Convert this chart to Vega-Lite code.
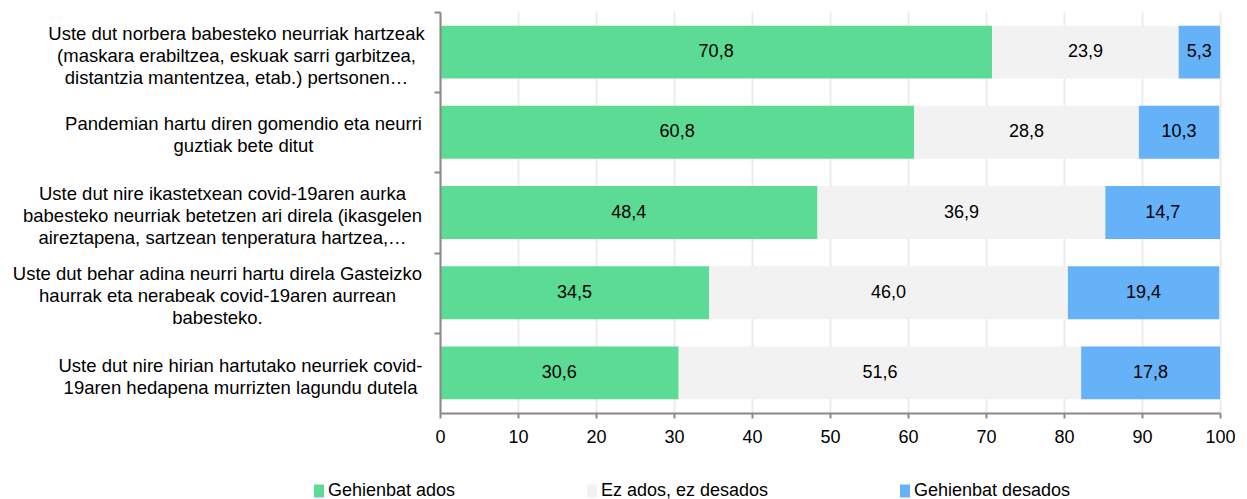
{
  "$schema": "https://vega.github.io/schema/vega-lite/v6.json",
  "width": 780,
  "height": 401,
  "autosize": {"type": "none"},
  "padding": {"left": 440, "top": 12, "right": 27, "bottom": 86},
  "config": {
    "view": {"stroke": null},
    "font": "Liberation Sans",
    "locale": {"number": {"decimal": ",", "thousands": ".", "grouping": [3], "currency": ["", " €"]}}
  },
  "data": {
    "values": [
      {"q": "Uste dut norbera babesteko neurriak hartzeak\n(maskara erabiltzea, eskuak sarri garbitzea,\ndistantzia mantentzea, etab.) pertsonen…", "s": "Gehienbat ados", "v": 70.8},
      {"q": "Uste dut norbera babesteko neurriak hartzeak\n(maskara erabiltzea, eskuak sarri garbitzea,\ndistantzia mantentzea, etab.) pertsonen…", "s": "Ez ados, ez desados", "v": 23.9},
      {"q": "Uste dut norbera babesteko neurriak hartzeak\n(maskara erabiltzea, eskuak sarri garbitzea,\ndistantzia mantentzea, etab.) pertsonen…", "s": "Gehienbat desados", "v": 5.3},
      {"q": "Pandemian hartu diren gomendio eta neurri\nguztiak bete ditut", "s": "Gehienbat ados", "v": 60.8},
      {"q": "Pandemian hartu diren gomendio eta neurri\nguztiak bete ditut", "s": "Ez ados, ez desados", "v": 28.8},
      {"q": "Pandemian hartu diren gomendio eta neurri\nguztiak bete ditut", "s": "Gehienbat desados", "v": 10.3},
      {"q": "Uste dut nire ikastetxean covid-19aren aurka\nbabesteko neurriak betetzen ari direla (ikasgelen\naireztapena, sartzean tenperatura hartzea,…", "s": "Gehienbat ados", "v": 48.4},
      {"q": "Uste dut nire ikastetxean covid-19aren aurka\nbabesteko neurriak betetzen ari direla (ikasgelen\naireztapena, sartzean tenperatura hartzea,…", "s": "Ez ados, ez desados", "v": 36.9},
      {"q": "Uste dut nire ikastetxean covid-19aren aurka\nbabesteko neurriak betetzen ari direla (ikasgelen\naireztapena, sartzean tenperatura hartzea,…", "s": "Gehienbat desados", "v": 14.7},
      {"q": "Uste dut behar adina neurri hartu direla Gasteizko\nhaurrak eta nerabeak covid-19aren aurrean\nbabesteko.", "s": "Gehienbat ados", "v": 34.5},
      {"q": "Uste dut behar adina neurri hartu direla Gasteizko\nhaurrak eta nerabeak covid-19aren aurrean\nbabesteko.", "s": "Ez ados, ez desados", "v": 46.0},
      {"q": "Uste dut behar adina neurri hartu direla Gasteizko\nhaurrak eta nerabeak covid-19aren aurrean\nbabesteko.", "s": "Gehienbat desados", "v": 19.4},
      {"q": "Uste dut nire hirian hartutako neurriek covid-\n19aren hedapena murrizten lagundu dutela", "s": "Gehienbat ados", "v": 30.6},
      {"q": "Uste dut nire hirian hartutako neurriek covid-\n19aren hedapena murrizten lagundu dutela", "s": "Ez ados, ez desados", "v": 51.6},
      {"q": "Uste dut nire hirian hartutako neurriek covid-\n19aren hedapena murrizten lagundu dutela", "s": "Gehienbat desados", "v": 17.8}
    ]
  },
  "transform": [
    {"calculate": "indexof(['Gehienbat ados','Ez ados, ez desados','Gehienbat desados'], datum.s)", "as": "o"},
    {"stack": "v", "groupby": ["q"], "sort": [{"field": "o", "order": "ascending"}], "as": ["v0", "v1"]},
    {"calculate": "(datum.v0 + datum.v1) / 2", "as": "mid"}
  ],
  "encoding": {
    "y": {
      "field": "q",
      "type": "nominal",
      "sort": null,
      "scale": {"paddingInner": 0.34, "paddingOuter": 0.17},
      "axis": {
        "title": null,
        "zindex": 1,
        "tickOffset": -40.1,
        "domainColor": "#888888",
        "domainWidth": 2,
        "tickColor": "#888888",
        "tickWidth": 2,
        "tickSize": 6,
        "labelAlign": "center",
        "labelBaseline": "middle",
        "labelPadding": {
          "condition": [
            {"test": "datum && datum.value && indexof(datum.value, 'norbera') >= 0", "value": 198},
            {"test": "datum && datum.value && indexof(datum.value, 'ikastetxean') >= 0", "value": 212},
            {"test": "datum && datum.value && indexof(datum.value, 'Gasteizko') >= 0", "value": 217},
            {"test": "datum && datum.value && indexof(datum.value, 'hirian') >= 0", "value": 194}
          ],
          "value": 191
        },
        "labelOffset": {
          "condition": [
            {"test": "datum && datum.value && indexof(datum.value, 'Pandemian') >= 0", "value": 31},
            {"test": "datum && datum.value && indexof(datum.value, 'hirian') >= 0", "value": 33},
            {"test": "datum && datum.value && indexof(datum.value, 'Uste') >= 0", "value": 21}
          ],
          "value": 0
        },
        "labelFontSize": 18.5,
        "labelColor": "#000000",
        "labelLineHeight": 22,
        "labelLimit": 0,
        "labelExpr": "split(datum.label, '\\n')",
        "grid": false
      }
    }
  },
  "layer": [
    {
      "mark": {"type": "bar"},
      "encoding": {
        "x": {
          "field": "v0",
          "type": "quantitative",
          "scale": {"domain": [0, 100], "nice": false},
          "axis": {
            "title": null,
            "tickCount": 10,
            "grid": true,
            "gridColor": "#EBEBEB",
            "gridWidth": 2,
            "domainColor": "#888888",
            "domainWidth": 2,
            "tickColor": "#888888",
            "tickWidth": 2,
            "tickSize": 5,
            "labelFontSize": 18,
            "labelColor": "#000000",
            "labelPadding": 10,
            "labelFlush": false,
            "format": "d"
          }
        },
        "x2": {"field": "v1"},
        "color": {
          "field": "s",
          "type": "nominal",
          "scale": {
            "domain": ["Gehienbat ados", "Ez ados, ez desados", "Gehienbat desados"],
            "range": ["#5CDB95", "#F2F2F2", "#66B2F8"]
          },
          "legend": {
            "title": null,
            "orient": "none",
            "legendX": -130,
            "legendY": 470,
            "direction": "horizontal",
            "columns": 3,
            "columnPadding": 127,
            "symbolType": "M-0.77,-1H0.77V1H-0.77Z",
            "symbolSize": 169,
            "symbolStrokeWidth": 0,
            "labelFontSize": 18,
            "labelLimit": 0,
            "labelColor": "#000000",
            "labelOffset": 0
          }
        }
      }
    },
    {
      "mark": {"type": "text", "fontSize": 18, "color": "#000000"},
      "encoding": {
        "x": {"field": "mid", "type": "quantitative"},
        "text": {"field": "v", "type": "quantitative", "format": ".1f"}
      }
    }
  ]
}
